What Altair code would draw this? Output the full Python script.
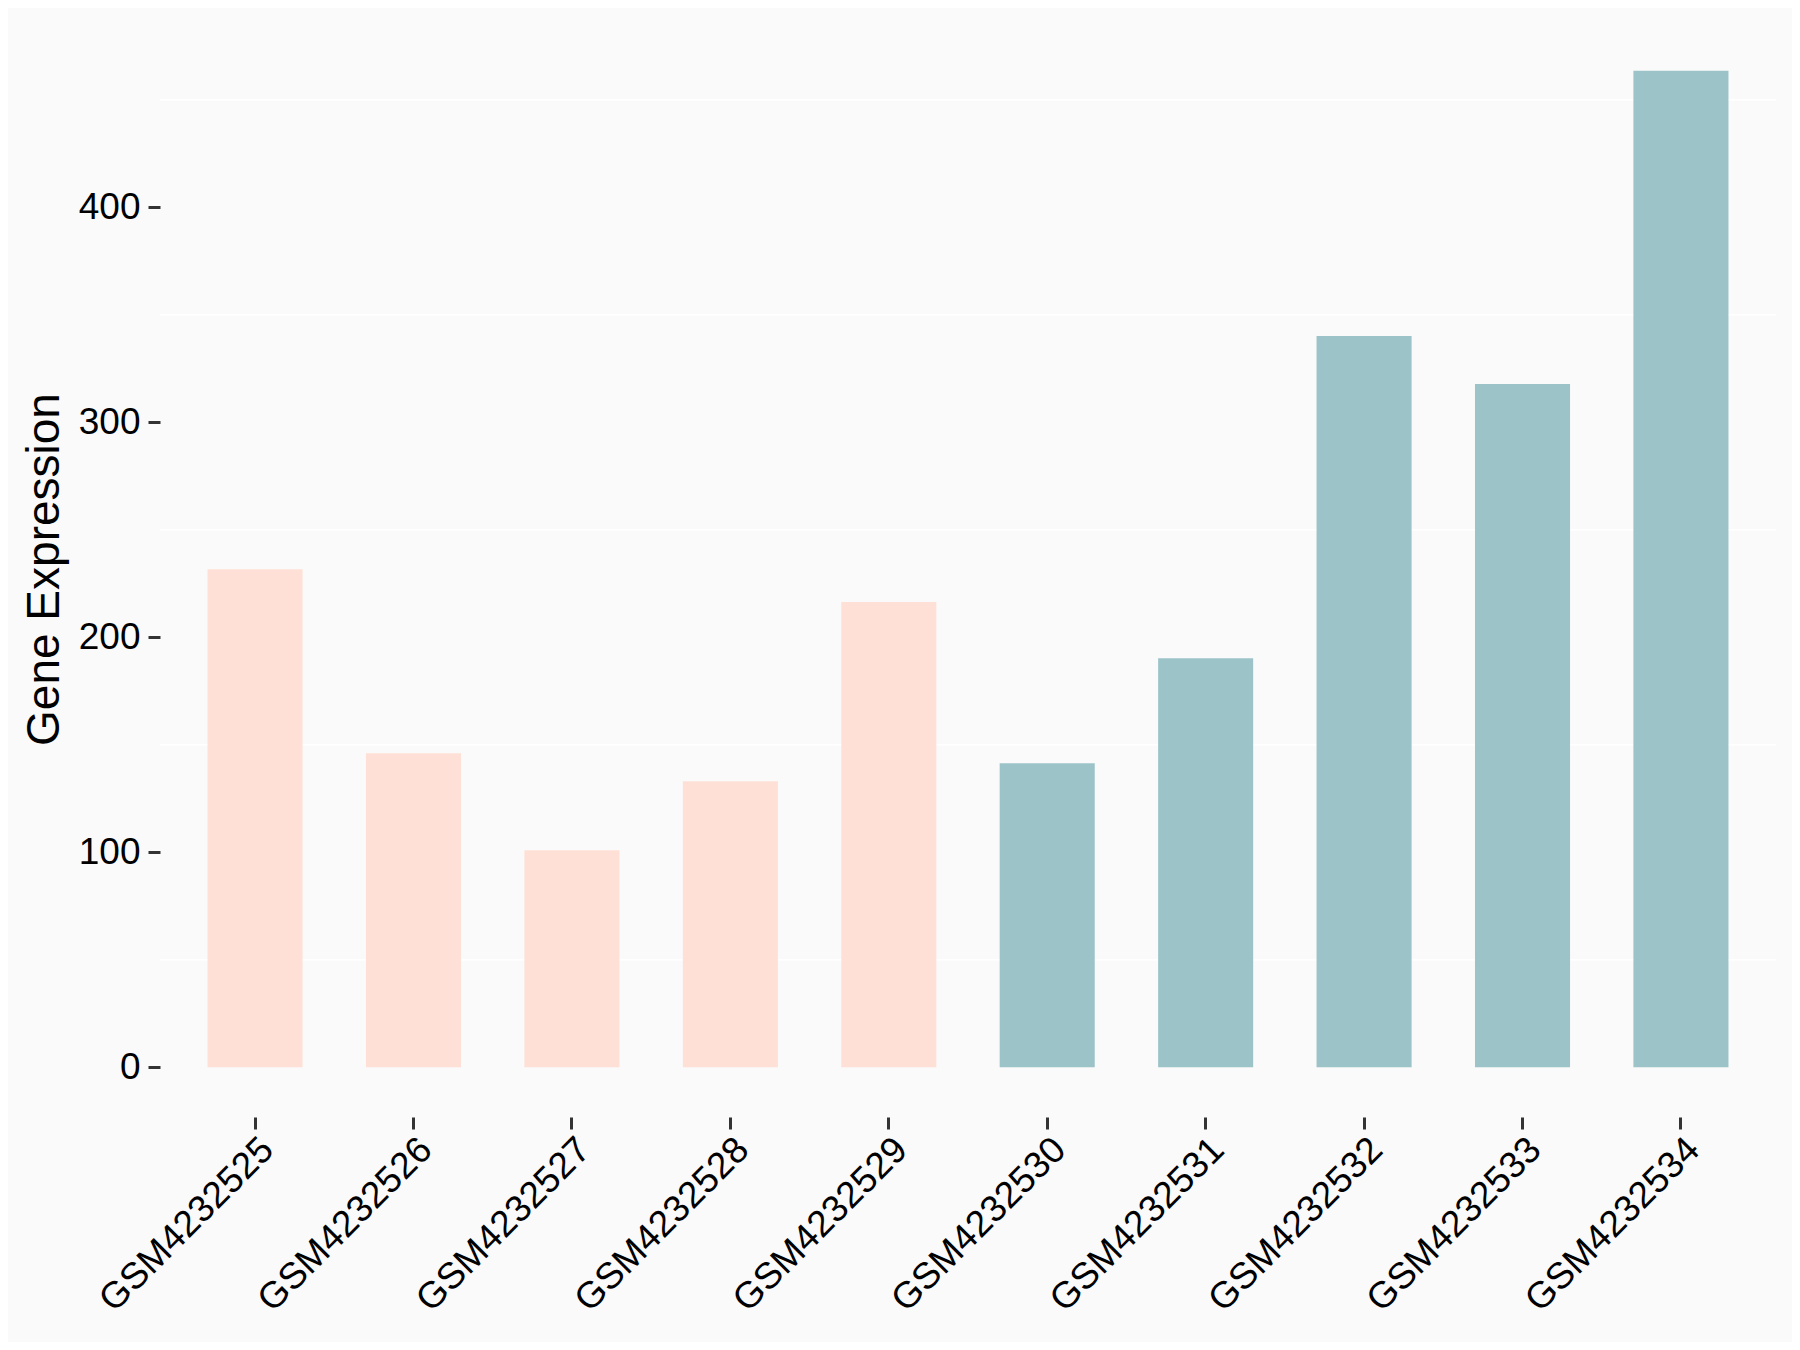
import altair as alt
import pandas as pd

samples = ["GSM4232525", "GSM4232526", "GSM4232527", "GSM4232528", "GSM4232529",
           "GSM4232530", "GSM4232531", "GSM4232532", "GSM4232533", "GSM4232534"]
values = [231.6, 146.0, 100.9, 133.0, 216.3, 141.4, 190.2, 340.1, 317.8, 463.4]
groups = ["A", "A", "A", "A", "A", "B", "B", "B", "B", "B"]
group_colors = ["#FFE0D6", "#9CC4C8"]
y_ticks = [0, 100, 200, 300, 400]
grid_values = [50, 150, 250, 350, 450]

df = pd.DataFrame({"sample": samples, "value": values, "group": groups})
grid_df = pd.DataFrame({"g": grid_values})

ymax = max(values)
ydomain = [-0.05 * ymax, ymax * 1.05]

FONT = "Liberation Sans"

yscale = alt.Scale(domain=ydomain, nice=False, zero=False)

yaxis = alt.Axis(
    title="Gene Expression",
    titleFont=FONT,
    titleFontSize=46,
    titleFontWeight="normal",
    titleColor="#000000",
    titlePadding=10,
    values=y_ticks,
    labelFontSize=37,
    labelFont=FONT,
    labelColor="#000000",
    labelPadding=8,
    tickSize=12,
    tickWidth=3,
    tickColor="#333333",
    domain=False,
    grid=False,
)

grid = alt.Chart(grid_df).mark_rule(color="#FFFFFF", strokeWidth=1.5).encode(
    y=alt.Y("g:Q", scale=yscale, axis=yaxis, title="Gene Expression")
)

bars = alt.Chart(df).mark_bar().encode(
    x=alt.X(
        "sample:N",
        sort=samples,
        scale=alt.Scale(paddingInner=0.4, paddingOuter=0.3),
        axis=alt.Axis(
            title=None,
            labelAngle=-45,
            labelAlign="right",
            labelBaseline="top",
            labelFontSize=37,
            labelFont=FONT,
            labelColor="#000000",
            labelPadding=2,
            labelOffset=0,
            labelLimit=0,
            tickSize=12,
            tickWidth=3,
            tickColor="#333333",
            domain=False,
            grid=False,
        ),
    ),
    y=alt.Y("value:Q", scale=yscale, axis=yaxis, title="Gene Expression"),
    y2=alt.datum(0),
    color=alt.Color("group:N", scale=alt.Scale(domain=["A", "B"], range=group_colors), legend=None),
)

chart = alt.layer(grid, bars).properties(
    width=1616,
    height=1096,
    background="#FAFAFA",
    padding={"left": 152, "top": 13, "right": 16, "bottom": 225},
    autosize=alt.AutoSizeParams(type="none"),
).configure_view(stroke=None, fill="#FAFAFA")

chart.save("out.html", embed_options={"renderer": "svg", "actions": False})
